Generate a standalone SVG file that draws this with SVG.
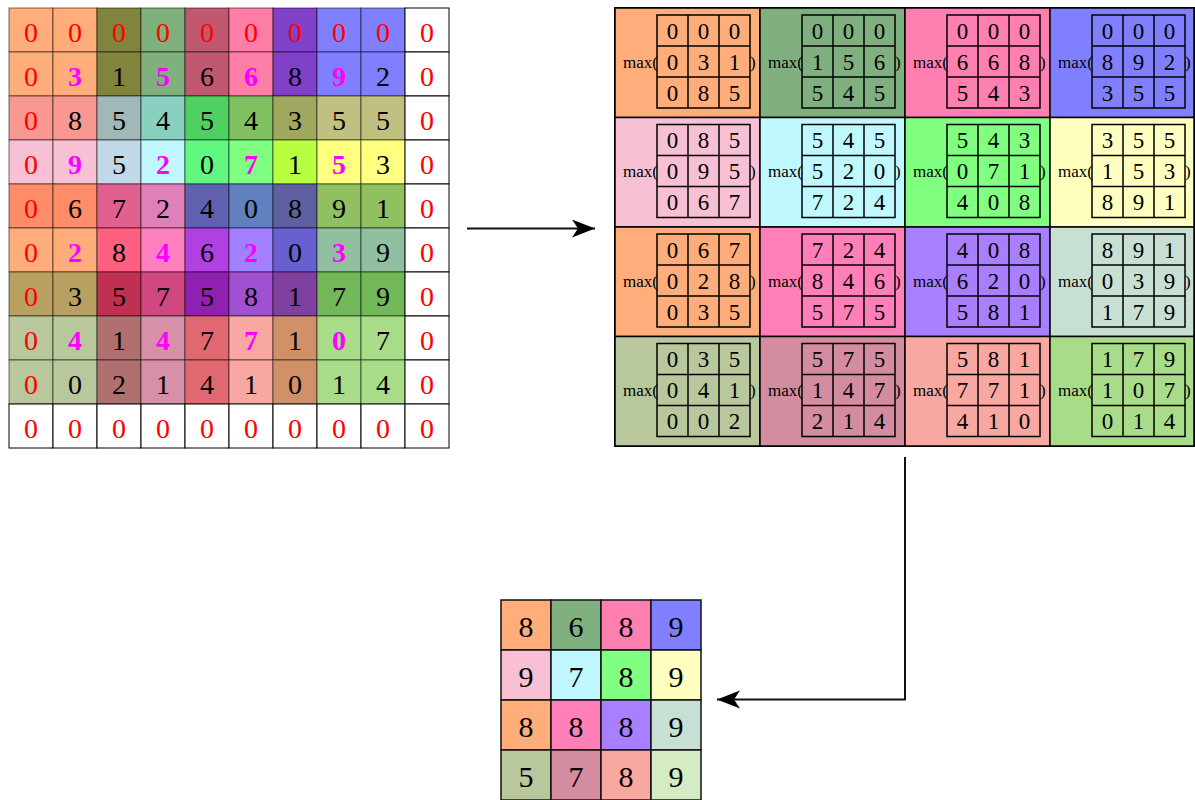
<svg xmlns="http://www.w3.org/2000/svg" width="1195" height="800" viewBox="0 0 1195 800">
<style>
.ic{stroke:#000;stroke-opacity:0.55;stroke-width:1}
.wc{fill:#fff;stroke:#000;stroke-width:1}
.t{font-family:"Liberation Serif","Times New Roman",serif;font-size:28px;text-anchor:middle}
.r{fill:#f00}
.k{fill:#000}
.m{fill:#f0f;font-weight:bold}
.pc{stroke:#000;stroke-width:1.5}
.g3{fill:none;stroke:#000;stroke-width:1.5}
.d{font-family:"Liberation Serif","Times New Roman",serif;font-size:23px;fill:#000}
.mx{font-family:"Liberation Serif","Times New Roman",serif;font-size:17px;fill:#000}
.o{font-family:"Liberation Serif","Times New Roman",serif;font-size:30px;text-anchor:middle;fill:#000}
.oc{stroke:#111;stroke-width:1.5}
.cn{fill:none;stroke:#111;stroke-width:2}
</style>
<defs>
<path id="g3" class="g3" d="M0,0H93V93H0Z M31,0V93 M62,0V93 M0,31H93 M0,62H93"/>
<marker id="ah" markerWidth="24" markerHeight="20" refX="23" refY="9" orient="auto" markerUnits="userSpaceOnUse"><path d="M0,0 L23,9 L0,18 L6,9 Z" fill="#000"/></marker>
</defs>
<rect width="1195" height="800" fill="#fff"/>

<g id="input">
<g id="input-cells">
<rect class="ic" x="9" y="8" width="44" height="44" fill="#FFAD7A"/><rect class="ic" x="53" y="8" width="44" height="44" fill="#FFAD7A"/><rect class="ic" x="97" y="8" width="44" height="44" fill="#80843C"/><rect class="ic" x="141" y="8" width="44" height="44" fill="#80B07C"/><rect class="ic" x="185" y="8" width="44" height="44" fill="#C05870"/><rect class="ic" x="229" y="8" width="44" height="44" fill="#FF7EA8"/><rect class="ic" x="273" y="8" width="44" height="44" fill="#8040C8"/><rect class="ic" x="317" y="8" width="44" height="44" fill="#8080FF"/><rect class="ic" x="361" y="8" width="44" height="44" fill="#8080FF"/><rect class="wc" x="405" y="8" width="44" height="44"/>
<rect class="ic" x="9" y="52" width="44" height="44" fill="#FFAD7A"/><rect class="ic" x="53" y="52" width="44" height="44" fill="#FFAD7A"/><rect class="ic" x="97" y="52" width="44" height="44" fill="#80843C"/><rect class="ic" x="141" y="52" width="44" height="44" fill="#80B07C"/><rect class="ic" x="185" y="52" width="44" height="44" fill="#C05870"/><rect class="ic" x="229" y="52" width="44" height="44" fill="#FF7EA8"/><rect class="ic" x="273" y="52" width="44" height="44" fill="#8040C8"/><rect class="ic" x="317" y="52" width="44" height="44" fill="#8080FF"/><rect class="ic" x="361" y="52" width="44" height="44" fill="#8080FF"/><rect class="wc" x="405" y="52" width="44" height="44"/>
<rect class="ic" x="9" y="96" width="44" height="44" fill="#F89890"/><rect class="ic" x="53" y="96" width="44" height="44" fill="#F89890"/><rect class="ic" x="97" y="96" width="44" height="44" fill="#A0B8B8"/><rect class="ic" x="141" y="96" width="44" height="44" fill="#88D0C0"/><rect class="ic" x="185" y="96" width="44" height="44" fill="#50D060"/><rect class="ic" x="229" y="96" width="44" height="44" fill="#80C060"/><rect class="ic" x="273" y="96" width="44" height="44" fill="#A0A860"/><rect class="ic" x="317" y="96" width="44" height="44" fill="#C0C080"/><rect class="ic" x="361" y="96" width="44" height="44" fill="#C0C080"/><rect class="wc" x="405" y="96" width="44" height="44"/>
<rect class="ic" x="9" y="140" width="44" height="44" fill="#F8C0D4"/><rect class="ic" x="53" y="140" width="44" height="44" fill="#F8C0D4"/><rect class="ic" x="97" y="140" width="44" height="44" fill="#C0D8E8"/><rect class="ic" x="141" y="140" width="44" height="44" fill="#C0F8FF"/><rect class="ic" x="185" y="140" width="44" height="44" fill="#60F880"/><rect class="ic" x="229" y="140" width="44" height="44" fill="#80FF80"/><rect class="ic" x="273" y="140" width="44" height="44" fill="#B8FF40"/><rect class="ic" x="317" y="140" width="44" height="44" fill="#FFFF80"/><rect class="ic" x="361" y="140" width="44" height="44" fill="#FFFF80"/><rect class="wc" x="405" y="140" width="44" height="44"/>
<rect class="ic" x="9" y="184" width="44" height="44" fill="#FF8C68"/><rect class="ic" x="53" y="184" width="44" height="44" fill="#FF8C68"/><rect class="ic" x="97" y="184" width="44" height="44" fill="#E06090"/><rect class="ic" x="141" y="184" width="44" height="44" fill="#E080B8"/><rect class="ic" x="185" y="184" width="44" height="44" fill="#6060B0"/><rect class="ic" x="229" y="184" width="44" height="44" fill="#6080C0"/><rect class="ic" x="273" y="184" width="44" height="44" fill="#6060A0"/><rect class="ic" x="317" y="184" width="44" height="44" fill="#90C060"/><rect class="ic" x="361" y="184" width="44" height="44" fill="#90C060"/><rect class="wc" x="405" y="184" width="44" height="44"/>
<rect class="ic" x="9" y="228" width="44" height="44" fill="#FFAD7A"/><rect class="ic" x="53" y="228" width="44" height="44" fill="#FFAD7A"/><rect class="ic" x="97" y="228" width="44" height="44" fill="#FF6080"/><rect class="ic" x="141" y="228" width="44" height="44" fill="#FF80C0"/><rect class="ic" x="185" y="228" width="44" height="44" fill="#B040E0"/><rect class="ic" x="229" y="228" width="44" height="44" fill="#A080FF"/><rect class="ic" x="273" y="228" width="44" height="44" fill="#6860D0"/><rect class="ic" x="317" y="228" width="44" height="44" fill="#90C0A0"/><rect class="ic" x="361" y="228" width="44" height="44" fill="#90C0A0"/><rect class="wc" x="405" y="228" width="44" height="44"/>
<rect class="ic" x="9" y="272" width="44" height="44" fill="#B8A060"/><rect class="ic" x="53" y="272" width="44" height="44" fill="#B8A060"/><rect class="ic" x="97" y="272" width="44" height="44" fill="#C03050"/><rect class="ic" x="141" y="272" width="44" height="44" fill="#D04880"/><rect class="ic" x="185" y="272" width="44" height="44" fill="#9020B0"/><rect class="ic" x="229" y="272" width="44" height="44" fill="#A050D0"/><rect class="ic" x="273" y="272" width="44" height="44" fill="#8040A0"/><rect class="ic" x="317" y="272" width="44" height="44" fill="#70B858"/><rect class="ic" x="361" y="272" width="44" height="44" fill="#70B858"/><rect class="wc" x="405" y="272" width="44" height="44"/>
<rect class="ic" x="9" y="316" width="44" height="44" fill="#B8C89C"/><rect class="ic" x="53" y="316" width="44" height="44" fill="#B8C89C"/><rect class="ic" x="97" y="316" width="44" height="44" fill="#B07070"/><rect class="ic" x="141" y="316" width="44" height="44" fill="#D890A8"/><rect class="ic" x="185" y="316" width="44" height="44" fill="#E06870"/><rect class="ic" x="229" y="316" width="44" height="44" fill="#F8A8A0"/><rect class="ic" x="273" y="316" width="44" height="44" fill="#D09068"/><rect class="ic" x="317" y="316" width="44" height="44" fill="#A8DC88"/><rect class="ic" x="361" y="316" width="44" height="44" fill="#A8DC88"/><rect class="wc" x="405" y="316" width="44" height="44"/>
<rect class="ic" x="9" y="360" width="44" height="44" fill="#B8C89C"/><rect class="ic" x="53" y="360" width="44" height="44" fill="#B8C89C"/><rect class="ic" x="97" y="360" width="44" height="44" fill="#B07070"/><rect class="ic" x="141" y="360" width="44" height="44" fill="#D890A8"/><rect class="ic" x="185" y="360" width="44" height="44" fill="#E06870"/><rect class="ic" x="229" y="360" width="44" height="44" fill="#F8A8A0"/><rect class="ic" x="273" y="360" width="44" height="44" fill="#D09068"/><rect class="ic" x="317" y="360" width="44" height="44" fill="#A8DC88"/><rect class="ic" x="361" y="360" width="44" height="44" fill="#A8DC88"/><rect class="wc" x="405" y="360" width="44" height="44"/>
<rect class="wc" x="9" y="404" width="44" height="44"/><rect class="wc" x="53" y="404" width="44" height="44"/><rect class="wc" x="97" y="404" width="44" height="44"/><rect class="wc" x="141" y="404" width="44" height="44"/><rect class="wc" x="185" y="404" width="44" height="44"/><rect class="wc" x="229" y="404" width="44" height="44"/><rect class="wc" x="273" y="404" width="44" height="44"/><rect class="wc" x="317" y="404" width="44" height="44"/><rect class="wc" x="361" y="404" width="44" height="44"/><rect class="wc" x="405" y="404" width="44" height="44"/>
</g>
<g id="input-values" class="t">
<text class="r" x="31 75 119 163 207 251 295 339 383 427" y="41.5">0000000000</text>
<text y="85.5"><tspan class="r" x="31">0</tspan><tspan class="m" x="75">3</tspan><tspan class="k" x="119">1</tspan><tspan class="m" x="163">5</tspan><tspan class="k" x="207">6</tspan><tspan class="m" x="251">6</tspan><tspan class="k" x="295">8</tspan><tspan class="m" x="339">9</tspan><tspan class="k" x="383">2</tspan><tspan class="r" x="427">0</tspan></text>
<text y="129.5"><tspan class="r" x="31">0</tspan><tspan class="k" x="75 119 163 207 251 295 339 383">85454355</tspan><tspan class="r" x="427">0</tspan></text>
<text y="173.5"><tspan class="r" x="31">0</tspan><tspan class="m" x="75">9</tspan><tspan class="k" x="119">5</tspan><tspan class="m" x="163">2</tspan><tspan class="k" x="207">0</tspan><tspan class="m" x="251">7</tspan><tspan class="k" x="295">1</tspan><tspan class="m" x="339">5</tspan><tspan class="k" x="383">3</tspan><tspan class="r" x="427">0</tspan></text>
<text y="217.5"><tspan class="r" x="31">0</tspan><tspan class="k" x="75 119 163 207 251 295 339 383">67240891</tspan><tspan class="r" x="427">0</tspan></text>
<text y="261.5"><tspan class="r" x="31">0</tspan><tspan class="m" x="75">2</tspan><tspan class="k" x="119">8</tspan><tspan class="m" x="163">4</tspan><tspan class="k" x="207">6</tspan><tspan class="m" x="251">2</tspan><tspan class="k" x="295">0</tspan><tspan class="m" x="339">3</tspan><tspan class="k" x="383">9</tspan><tspan class="r" x="427">0</tspan></text>
<text y="305.5"><tspan class="r" x="31">0</tspan><tspan class="k" x="75 119 163 207 251 295 339 383">35758179</tspan><tspan class="r" x="427">0</tspan></text>
<text y="349.5"><tspan class="r" x="31">0</tspan><tspan class="m" x="75">4</tspan><tspan class="k" x="119">1</tspan><tspan class="m" x="163">4</tspan><tspan class="k" x="207">7</tspan><tspan class="m" x="251">7</tspan><tspan class="k" x="295">1</tspan><tspan class="m" x="339">0</tspan><tspan class="k" x="383">7</tspan><tspan class="r" x="427">0</tspan></text>
<text y="393.5"><tspan class="r" x="31">0</tspan><tspan class="k" x="75 119 163 207 251 295 339 383">02141014</tspan><tspan class="r" x="427">0</tspan></text>
<text class="r" x="31 75 119 163 207 251 295 339 383 427" y="437.5">0000000000</text>
</g>
</g>

<g id="pooling">
<rect x="615" y="8" width="579" height="438" fill="none" stroke="#000" stroke-width="2"/>
<g id="w00"><rect class="pc" x="615" y="8" width="145" height="109.5" fill="#FFAD7A"/><use href="#g3" x="657" y="15"/><text class="mx" x="658" y="67.5" text-anchor="end">max(</text><text class="mx" x="750" y="67.5">)</text><text class="d" text-anchor="middle" x="672.5 703.5 734.5" y="38.5">000</text><text class="d" text-anchor="middle" x="672.5 703.5 734.5" y="69.5">031</text><text class="d" text-anchor="middle" x="672.5 703.5 734.5" y="100.5">085</text></g>
<g id="w01"><rect class="pc" x="760" y="8" width="145" height="109.5" fill="#80B080"/><use href="#g3" x="802" y="15"/><text class="mx" x="803" y="67.5" text-anchor="end">max(</text><text class="mx" x="895" y="67.5">)</text><text class="d" text-anchor="middle" x="817.5 848.5 879.5" y="38.5">000</text><text class="d" text-anchor="middle" x="817.5 848.5 879.5" y="69.5">156</text><text class="d" text-anchor="middle" x="817.5 848.5 879.5" y="100.5">545</text></g>
<g id="w02"><rect class="pc" x="905" y="8" width="145" height="109.5" fill="#FF80B0"/><use href="#g3" x="947" y="15"/><text class="mx" x="948" y="67.5" text-anchor="end">max(</text><text class="mx" x="1040" y="67.5">)</text><text class="d" text-anchor="middle" x="962.5 993.5 1024.5" y="38.5">000</text><text class="d" text-anchor="middle" x="962.5 993.5 1024.5" y="69.5">668</text><text class="d" text-anchor="middle" x="962.5 993.5 1024.5" y="100.5">543</text></g>
<g id="w03"><rect class="pc" x="1050" y="8" width="144" height="109.5" fill="#8080FF"/><use href="#g3" x="1092" y="15"/><text class="mx" x="1093" y="67.5" text-anchor="end">max(</text><text class="mx" x="1185" y="67.5">)</text><text class="d" text-anchor="middle" x="1107.5 1138.5 1169.5" y="38.5">000</text><text class="d" text-anchor="middle" x="1107.5 1138.5 1169.5" y="69.5">892</text><text class="d" text-anchor="middle" x="1107.5 1138.5 1169.5" y="100.5">355</text></g>

<g id="w10"><rect class="pc" x="615" y="117.5" width="145" height="109.5" fill="#F8C0D4"/><use href="#g3" x="657" y="124.5"/><text class="mx" x="658" y="177" text-anchor="end">max(</text><text class="mx" x="750" y="177">)</text><text class="d" text-anchor="middle" x="672.5 703.5 734.5" y="148">085</text><text class="d" text-anchor="middle" x="672.5 703.5 734.5" y="179">095</text><text class="d" text-anchor="middle" x="672.5 703.5 734.5" y="210">067</text></g>
<g id="w11"><rect class="pc" x="760" y="117.5" width="145" height="109.5" fill="#C0F8FF"/><use href="#g3" x="802" y="124.5"/><text class="mx" x="803" y="177" text-anchor="end">max(</text><text class="mx" x="895" y="177">)</text><text class="d" text-anchor="middle" x="817.5 848.5 879.5" y="148">545</text><text class="d" text-anchor="middle" x="817.5 848.5 879.5" y="179">520</text><text class="d" text-anchor="middle" x="817.5 848.5 879.5" y="210">724</text></g>
<g id="w12"><rect class="pc" x="905" y="117.5" width="145" height="109.5" fill="#80FF80"/><use href="#g3" x="947" y="124.5"/><text class="mx" x="948" y="177" text-anchor="end">max(</text><text class="mx" x="1040" y="177">)</text><text class="d" text-anchor="middle" x="962.5 993.5 1024.5" y="148">543</text><text class="d" text-anchor="middle" x="962.5 993.5 1024.5" y="179">071</text><text class="d" text-anchor="middle" x="962.5 993.5 1024.5" y="210">408</text></g>
<g id="w13"><rect class="pc" x="1050" y="117.5" width="144" height="109.5" fill="#FFFFC0"/><use href="#g3" x="1092" y="124.5"/><text class="mx" x="1093" y="177" text-anchor="end">max(</text><text class="mx" x="1185" y="177">)</text><text class="d" text-anchor="middle" x="1107.5 1138.5 1169.5" y="148">355</text><text class="d" text-anchor="middle" x="1107.5 1138.5 1169.5" y="179">153</text><text class="d" text-anchor="middle" x="1107.5 1138.5 1169.5" y="210">891</text></g>

<g id="w20"><rect class="pc" x="615" y="227" width="145" height="109.5" fill="#FFAD7A"/><use href="#g3" x="657" y="234"/><text class="mx" x="658" y="286.5" text-anchor="end">max(</text><text class="mx" x="750" y="286.5">)</text><text class="d" text-anchor="middle" x="672.5 703.5 734.5" y="257.5">067</text><text class="d" text-anchor="middle" x="672.5 703.5 734.5" y="288.5">028</text><text class="d" text-anchor="middle" x="672.5 703.5 734.5" y="319.5">035</text></g>
<g id="w21"><rect class="pc" x="760" y="227" width="145" height="109.5" fill="#FF80B8"/><use href="#g3" x="802" y="234"/><text class="mx" x="803" y="286.5" text-anchor="end">max(</text><text class="mx" x="895" y="286.5">)</text><text class="d" text-anchor="middle" x="817.5 848.5 879.5" y="257.5">724</text><text class="d" text-anchor="middle" x="817.5 848.5 879.5" y="288.5">846</text><text class="d" text-anchor="middle" x="817.5 848.5 879.5" y="319.5">575</text></g>
<g id="w22"><rect class="pc" x="905" y="227" width="145" height="109.5" fill="#A880FF"/><use href="#g3" x="947" y="234"/><text class="mx" x="948" y="286.5" text-anchor="end">max(</text><text class="mx" x="1040" y="286.5">)</text><text class="d" text-anchor="middle" x="962.5 993.5 1024.5" y="257.5">408</text><text class="d" text-anchor="middle" x="962.5 993.5 1024.5" y="288.5">620</text><text class="d" text-anchor="middle" x="962.5 993.5 1024.5" y="319.5">581</text></g>
<g id="w23"><rect class="pc" x="1050" y="227" width="144" height="109.5" fill="#C8E0D4"/><use href="#g3" x="1092" y="234"/><text class="mx" x="1093" y="286.5" text-anchor="end">max(</text><text class="mx" x="1185" y="286.5">)</text><text class="d" text-anchor="middle" x="1107.5 1138.5 1169.5" y="257.5">891</text><text class="d" text-anchor="middle" x="1107.5 1138.5 1169.5" y="288.5">039</text><text class="d" text-anchor="middle" x="1107.5 1138.5 1169.5" y="319.5">179</text></g>

<g id="w30"><rect class="pc" x="615" y="336.5" width="145" height="109.5" fill="#B8C89C"/><use href="#g3" x="657" y="343.5"/><text class="mx" x="658" y="396" text-anchor="end">max(</text><text class="mx" x="750" y="396">)</text><text class="d" text-anchor="middle" x="672.5 703.5 734.5" y="367">035</text><text class="d" text-anchor="middle" x="672.5 703.5 734.5" y="398">041</text><text class="d" text-anchor="middle" x="672.5 703.5 734.5" y="429">002</text></g>
<g id="w31"><rect class="pc" x="760" y="336.5" width="145" height="109.5" fill="#D48CA0"/><use href="#g3" x="802" y="343.5"/><text class="mx" x="803" y="396" text-anchor="end">max(</text><text class="mx" x="895" y="396">)</text><text class="d" text-anchor="middle" x="817.5 848.5 879.5" y="367">575</text><text class="d" text-anchor="middle" x="817.5 848.5 879.5" y="398">147</text><text class="d" text-anchor="middle" x="817.5 848.5 879.5" y="429">214</text></g>
<g id="w32"><rect class="pc" x="905" y="336.5" width="145" height="109.5" fill="#F8A8A0"/><use href="#g3" x="947" y="343.5"/><text class="mx" x="948" y="396" text-anchor="end">max(</text><text class="mx" x="1040" y="396">)</text><text class="d" text-anchor="middle" x="962.5 993.5 1024.5" y="367">581</text><text class="d" text-anchor="middle" x="962.5 993.5 1024.5" y="398">771</text><text class="d" text-anchor="middle" x="962.5 993.5 1024.5" y="429">410</text></g>
<g id="w33"><rect class="pc" x="1050" y="336.5" width="144" height="109.5" fill="#A8DC88"/><use href="#g3" x="1092" y="343.5"/><text class="mx" x="1093" y="396" text-anchor="end">max(</text><text class="mx" x="1185" y="396">)</text><text class="d" text-anchor="middle" x="1107.5 1138.5 1169.5" y="367">179</text><text class="d" text-anchor="middle" x="1107.5 1138.5 1169.5" y="398">107</text><text class="d" text-anchor="middle" x="1107.5 1138.5 1169.5" y="429">014</text></g>
</g>

<g id="output">
<rect class="oc" x="501" y="600" width="50" height="50" fill="#FFAD7A"/><rect class="oc" x="551" y="600" width="50" height="50" fill="#80B080"/><rect class="oc" x="601" y="600" width="50" height="50" fill="#FF80B0"/><rect class="oc" x="651" y="600" width="50" height="50" fill="#8080FF"/>
<rect class="oc" x="501" y="650" width="50" height="50" fill="#F8C0D4"/><rect class="oc" x="551" y="650" width="50" height="50" fill="#C0F8FF"/><rect class="oc" x="601" y="650" width="50" height="50" fill="#80FF80"/><rect class="oc" x="651" y="650" width="50" height="50" fill="#FFFFC0"/>
<rect class="oc" x="501" y="700" width="50" height="50" fill="#FFAD7A"/><rect class="oc" x="551" y="700" width="50" height="50" fill="#FF80B8"/><rect class="oc" x="601" y="700" width="50" height="50" fill="#A880FF"/><rect class="oc" x="651" y="700" width="50" height="50" fill="#C8E0D4"/>
<rect class="oc" x="501" y="750" width="50" height="50" fill="#B8C89C"/><rect class="oc" x="551" y="750" width="50" height="50" fill="#D48CA0"/><rect class="oc" x="601" y="750" width="50" height="50" fill="#F8A8A0"/><rect class="oc" x="651" y="750" width="50" height="50" fill="#D4EBC4"/>
<text class="o" x="526 576 626 676" y="636.5">8689</text>
<text class="o" x="526 576 626 676" y="686.5">9789</text>
<text class="o" x="526 576 626 676" y="736.5">8889</text>
<text class="o" x="526 576 626 676" y="786.5">5789</text>
</g>

<g id="connectors">
<path class="cn" d="M467,228.5 H595" marker-end="url(#ah)"/>
<path class="cn" d="M905,457 V699.5 H717" marker-end="url(#ah)"/>
</g>
</svg>
